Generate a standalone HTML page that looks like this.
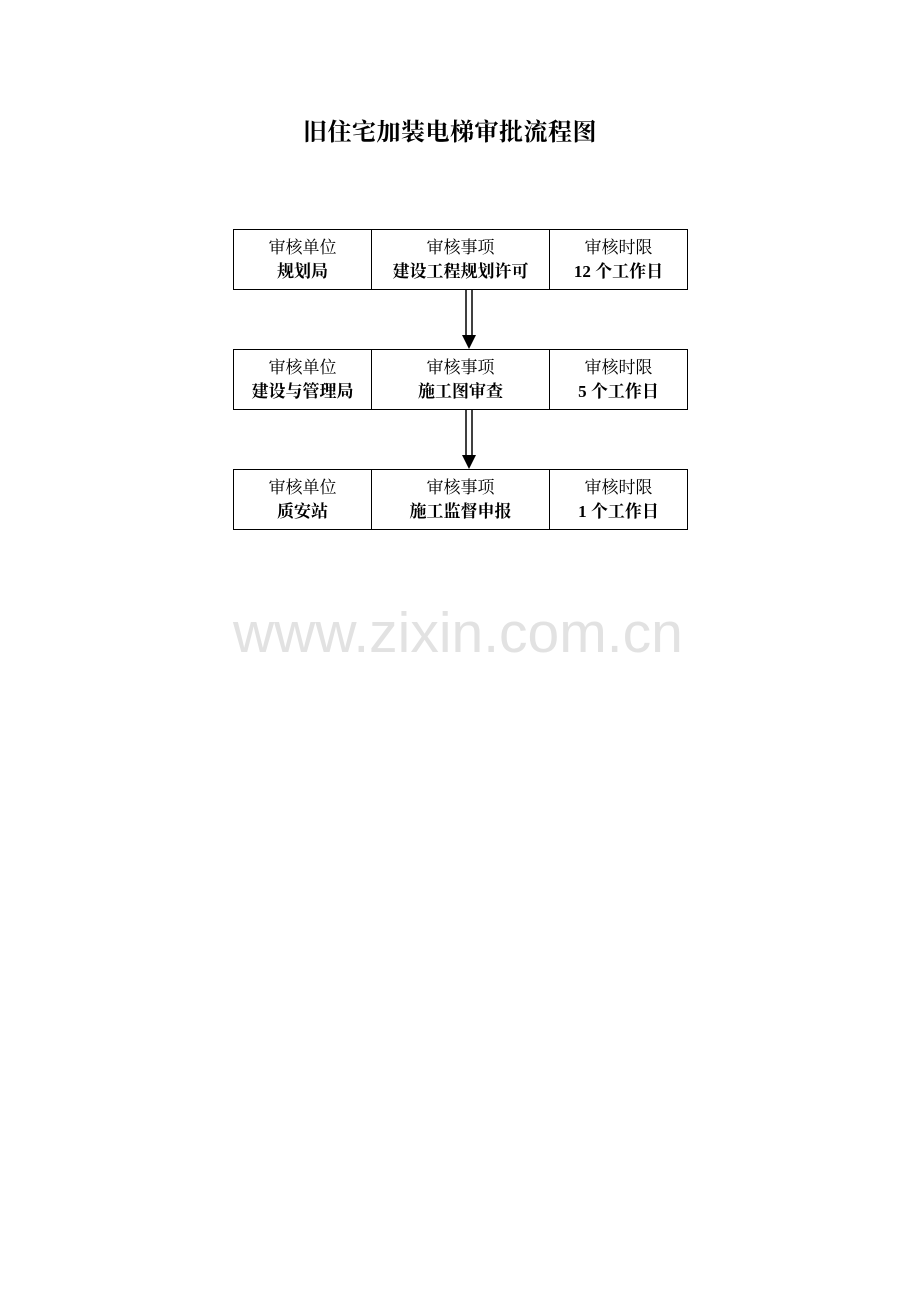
<!DOCTYPE html>
<html><head><meta charset="utf-8"><style>
body{margin:0;width:920px;height:1302px;background:#fff;position:relative;font-family:"Liberation Serif","Noto Serif CJK SC","Noto Sans CJK SC",serif;}
.t{position:absolute;left:303px;top:116px;font-size:24px;letter-spacing:0.5px;font-weight:bold;line-height:34px;white-space:nowrap}
.row{position:absolute;left:233px;width:455px;height:61px;box-sizing:border-box;border:1px solid #000;display:flex}
.c{box-sizing:border-box;text-align:center;font-size:17px;line-height:24px;padding-top:6px}
.c1{width:138px;border-right:1px solid #000}
.c2{width:178px;border-right:1px solid #000}
.c3{flex:1}
.c b{font-weight:bold}
.wm{position:absolute;left:233px;top:600px;font-family:"Liberation Sans",sans-serif;font-size:57px;color:#e2e2e2;white-space:nowrap}
</style></head><body>
<div class="t">旧住宅加装电梯审批流程图</div>
<div class="row" style="top:229px"><div class="c c1">审核单位<br><b>规划局</b></div><div class="c c2">审核事项<br><b>建设工程规划许可</b></div><div class="c c3">审核时限<br><b>12 个工作日</b></div></div>
<div class="row" style="top:349px"><div class="c c1">审核单位<br><b>建设与管理局</b></div><div class="c c2">审核事项<br><b>施工图审查</b></div><div class="c c3">审核时限<br><b>5 个工作日</b></div></div>
<div class="row" style="top:469px"><div class="c c1">审核单位<br><b>质安站</b></div><div class="c c2">审核事项<br><b>施工监督申报</b></div><div class="c c3">审核时限<br><b>1 个工作日</b></div></div>
<svg style="position:absolute;left:0;top:0" width="920" height="1302">
<g stroke="#000" stroke-width="1.5" fill="#000">
<line x1="466" y1="290" x2="466" y2="336"/><line x1="472" y1="290" x2="472" y2="336"/>
<polygon points="462,335 476,335 469,349" stroke="none"/>
<line x1="466" y1="410" x2="466" y2="456"/><line x1="472" y1="410" x2="472" y2="456"/>
<polygon points="462,455 476,455 469,469" stroke="none"/>
</g></svg>
<div class="wm">www.zixin.com.cn</div>
</body></html>
